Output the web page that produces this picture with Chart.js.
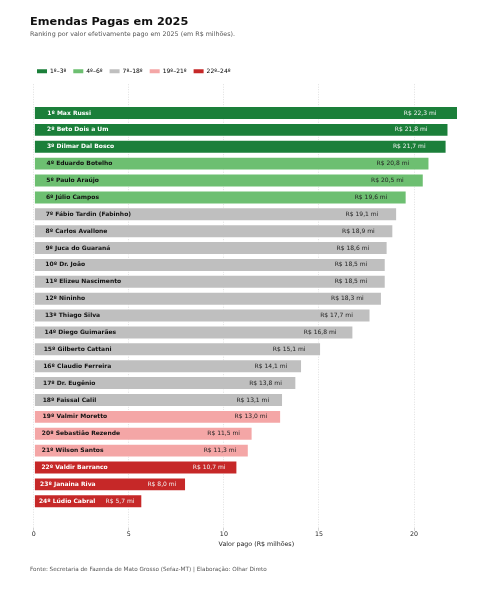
<!DOCTYPE html>
<html lang="pt-BR">
<head>
<meta charset="utf-8">
<title>Emendas Pagas em 2025</title>
<script src="https://cdn.jsdelivr.net/npm/chart.js@4"></script>
<style>
  html, body { margin: 0; padding: 0; background: #fff; }
  #wrap { width: 500px; height: 590px; position: relative; }
</style>
</head>
<body>
<div id="wrap"><canvas id="graficoEmendas"></canvas></div>
<script>
// Dados
const deputados = [
  "Max Russi", "Beto Dois a Um", "Dilmar Dal Bosco", "Eduardo Botelho", "Paulo Araújo",
  "Júlio Campos", "Fábio Tardin (Fabinho)", "Carlos Avallone", "Juca do Guaraná", "Dr. João",
  "Elizeu Nascimento", "Nininho", "Thiago Silva", "Diego Guimarães", "Gilberto Cattani",
  "Claudio Ferreira", "Dr. Eugênio", "Faissal Calil", "Valmir Moretto", "Sebastião Rezende",
  "Wilson Santos", "Valdir Barranco", "Janaina Riva", "Lúdio Cabral"
];
const valoresPagos = [
  22.3, 21.8, 21.7, 20.8, 20.5, 19.6, 19.1, 18.9, 18.6, 18.5, 18.5, 18.3,
  17.7, 16.8, 15.1, 14.1, 13.8, 13.1, 13.0, 11.5, 11.3, 10.7, 8.0, 5.7
];
const faixas = ["1º–3º", "4º–6º", "7º–18º", "19º–21º", "22º–24º"];
const fimDaFaixa = [3, 6, 18, 21, 24];
const xTicks = [0, 5, 10, 15, 20];

const coresFaixa = ["#1b7f3a", "#6dbf71", "#bfbfbf", "#f4a6a6", "#c62828"];
const textoEscuro = [false, true, true, true, false];

const faixaDe = i => fimDaFaixa.findIndex(f => i < f);
const fmt = v => "R$ " + v.toFixed(1).replace(".", ",") + " mi";

const rotulosBarras = {
  id: "rotulosBarras",
  afterDatasetsDraw(chart) {
    const ctx = chart.ctx;
    const meta = chart.getDatasetMeta(0);
    ctx.save();
    ctx.textBaseline = "middle";
    meta.data.forEach((bar, i) => {
      const v = valoresPagos[i];
      const escuro = textoEscuro[faixaDe(i)];
      ctx.fillStyle = escuro ? "#111" : "#fff";
      ctx.font = "bold 6px 'DejaVu Sans'";
      ctx.textAlign = "left";
      ctx.fillText((i + 1) + "º " + deputados[i], bar.base + 2 + 0.5 * v, bar.y);
      ctx.fillStyle = escuro ? "#222" : "#f2f2f2";
      ctx.font = "6px 'DejaVu Sans'";
      ctx.textAlign = "right";
      ctx.fillText(fmt(v), bar.x - (3 + 0.82 * v), bar.y);
    });
    ctx.restore();
  }
};

const rodape = {
  id: "rodape",
  afterDraw(chart) {
    const ctx = chart.ctx;
    ctx.save();
    ctx.fillStyle = "#555";
    ctx.font = "5.7px 'DejaVu Sans'";
    ctx.textBaseline = "middle";
    ctx.fillText("Fonte: Secretaria de Fazenda de Mato Grosso (Sefaz-MT) | Elaboração: Olhar Direto", 30, 570);
    ctx.restore();
  }
};

new Chart(document.getElementById("graficoEmendas"), {
  type: "bar",
  data: {
    datasets: [{
      data: valoresPagos.map((v, i) => ({ x: v, y: i })),
      backgroundColor: valoresPagos.map((v, i) => coresFaixa[faixaDe(i)]),
      borderColor: "#fff",
      borderWidth: 0.8,
      borderSkipped: false,
      barPercentage: 0.8,
      categoryPercentage: 1
    }]
  },
  options: {
    indexAxis: "y",
    responsive: true,
    maintainAspectRatio: false,
    animation: false,
    layout: { padding: { left: 30, right: 21, top: 0, bottom: 40 } },
    scales: {
      x: {
        type: "linear",
        min: 0,
        max: 23.415,
        offset: false,
        afterBuildTicks: s => { s.ticks = xTicks.map(v => ({ value: v })); },
        ticks: { font: { family: "DejaVu Sans", size: 6.3 }, color: "#222", padding: 0, includeBounds: false },
        grid: { color: "#d8d8d8", tickColor: "#c8c8c8", tickLength: 3, lineWidth: 0.8 },
        border: { display: false, dash: [1, 1.5] },
        title: {
          display: true,
          text: "Valor pago (R$ milhões)",
          font: { family: "DejaVu Sans", size: 6.3 },
          color: "#222",
          padding: { top: 2, bottom: 2 }
        }
      },
      y: {
        type: "linear",
        reverse: true,
        offset: false,
        min: -1.71,
        max: 24.58,
        ticks: { display: false },
        grid: { display: false },
        border: { display: false },
        afterFit: s => { s.width = 3.7; }
      }
    },
    plugins: {
      title: {
        display: true,
        text: "Emendas Pagas em 2025",
        align: "start",
        color: "#111",
        font: { family: "DejaVu Sans", size: 11.3, weight: "bold" },
        padding: { top: 15, bottom: 2 }
      },
      subtitle: {
        display: true,
        text: "Ranking por valor efetivamente pago em 2025 (em R$ milhões).",
        align: "start",
        color: "#555",
        font: { family: "DejaVu Sans", size: 6.35 },
        padding: { top: 0, bottom: 23 }
      },
      legend: {
        display: true,
        align: "start",
        labels: {
          boxWidth: 10,
          boxHeight: 4,
          padding: 7,
          color: "#333",
          font: { family: "DejaVu Sans", size: 6 },
          generateLabels: () => faixas.map((f, k) => ({
            text: f,
            fillStyle: coresFaixa[k],
            strokeStyle: coresFaixa[k],
            lineWidth: 0,
            hidden: false,
            index: k
          }))
        }
      },
      tooltip: { enabled: false }
    }
  },
  plugins: [rotulosBarras, rodape]
});
</script>
</body>
</html>
